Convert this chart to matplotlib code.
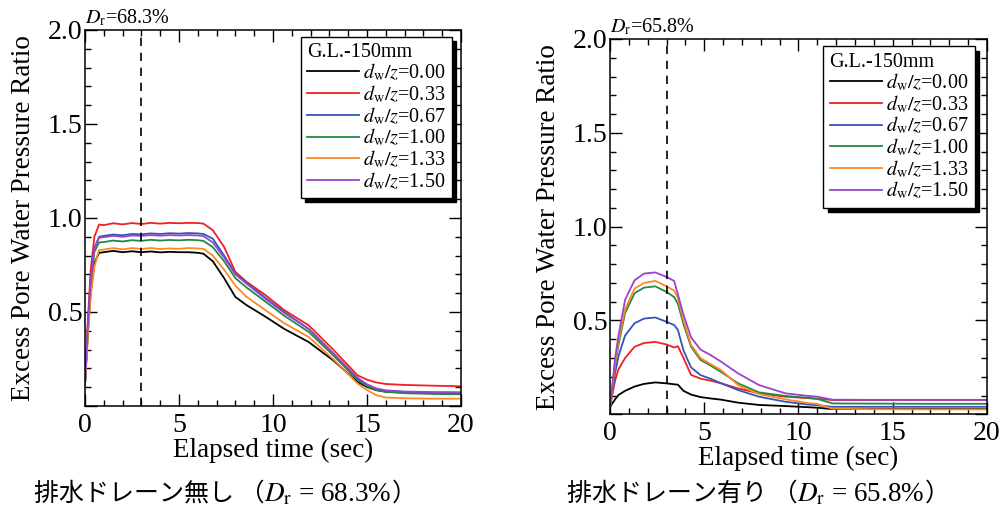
"""Excess pore water pressure ratio vs elapsed time, with / without drain."""

import matplotlib

matplotlib.use("Agg")

import matplotlib.pyplot as plt
from matplotlib.ticker import FuncFormatter, MultipleLocator

plt.rcParams.update(
    {
        "font.family": ["Liberation Serif", "DejaVu Serif"],
        "mathtext.fontset": "stix",
        "axes.linewidth": 1.1,
        "xtick.direction": "in",
        "ytick.direction": "in",
        "xtick.top": True,
        "ytick.right": True,
        "xtick.major.size": 8.5,
        "ytick.major.size": 8.5,
        "xtick.minor.size": 4.5,
        "ytick.minor.size": 4.5,
        "xtick.major.width": 1.0,
        "ytick.major.width": 1.0,
        "xtick.minor.width": 1.0,
        "ytick.minor.width": 1.0,
        "xtick.labelsize": 20,
        "ytick.labelsize": 20,
    }
)

W, H = 1002, 511
CJK = ["Noto Sans CJK JP", "DejaVu Sans"]

LABELS = ["0.00", "0.33", "0.67", "1.00", "1.33", "1.50"]
COLORS = ["#000000", "#ee2222", "#3355bb", "#228844", "#ff8822", "#9944cc"]

# --- no drain (Dr = 68.3%) ---
t_nodrain = [0.0, 0.15, 0.3, 0.5, 0.75, 1.0, 1.5, 2.0, 2.5, 3.0, 3.5, 4.0, 4.5, 5.0, 5.5,
             6.0, 6.3, 6.8, 7.4, 8.0, 8.6, 9.6, 10.6, 11.9, 13.2, 14.5, 15.0, 15.5, 16.0,
             17.0, 18.5, 20.0]
nd_000 = [0.11, 0.38, 0.60, 0.76, 0.815, 0.818, 0.825, 0.818, 0.823, 0.818, 0.822, 0.817,
          0.820, 0.818, 0.818, 0.815, 0.810, 0.77, 0.68, 0.58, 0.536, 0.475, 0.41, 0.34,
          0.243, 0.128, 0.101, 0.084, 0.076, 0.072, 0.070, 0.069]
nd_033 = [0.11, 0.45, 0.72, 0.90, 0.965, 0.962, 0.972, 0.966, 0.973, 0.968, 0.974, 0.970,
          0.974, 0.972, 0.974, 0.973, 0.970, 0.935, 0.846, 0.713, 0.66, 0.59, 0.51, 0.429,
          0.30, 0.163, 0.14, 0.125, 0.117, 0.112, 0.108, 0.105]
nd_067 = [0.11, 0.42, 0.66, 0.84, 0.90, 0.905, 0.912, 0.908, 0.915, 0.913, 0.918, 0.915,
          0.919, 0.917, 0.920, 0.918, 0.915, 0.89, 0.80, 0.705, 0.655, 0.575, 0.50, 0.41,
          0.28, 0.145, 0.112, 0.09, 0.08, 0.074, 0.071, 0.070]
nd_100 = [0.11, 0.40, 0.64, 0.82, 0.87, 0.872, 0.880, 0.875, 0.882, 0.878, 0.884, 0.880,
          0.883, 0.881, 0.884, 0.882, 0.878, 0.845, 0.77, 0.68, 0.63, 0.555, 0.48, 0.394,
          0.27, 0.138, 0.105, 0.085, 0.075, 0.068, 0.064, 0.062]
nd_133 = [0.11, 0.36, 0.58, 0.74, 0.83, 0.832, 0.840, 0.833, 0.840, 0.835, 0.840, 0.835,
          0.838, 0.836, 0.840, 0.838, 0.836, 0.80, 0.725, 0.64, 0.58, 0.51, 0.44, 0.367,
          0.25, 0.119, 0.085, 0.057, 0.045, 0.041, 0.039, 0.039]
nd_150 = [0.11, 0.42, 0.66, 0.84, 0.895, 0.898, 0.905, 0.900, 0.907, 0.905, 0.909, 0.906,
          0.909, 0.907, 0.909, 0.907, 0.904, 0.87, 0.79, 0.70, 0.65, 0.57, 0.495, 0.41,
          0.28, 0.15, 0.115, 0.093, 0.083, 0.077, 0.074, 0.073]

# --- with drain (Dr = 65.8%) ---
t_drain = [0.0, 0.27, 0.45, 0.8, 1.3, 1.8, 2.4, 3.0, 3.4, 3.6, 3.9, 4.3, 4.8, 5.3, 5.9,
           6.8, 7.9, 9.3, 10.5, 11.0, 11.8, 14.0, 17.0, 20.0]
d_000 = [0.04, 0.08, 0.103, 0.125, 0.148, 0.162, 0.17, 0.165, 0.16, 0.158, 0.125, 0.105,
         0.092, 0.085, 0.078, 0.062, 0.05, 0.044, 0.038, 0.035, 0.028, 0.028, 0.028, 0.028]
d_033 = [0.04, 0.18, 0.24, 0.30, 0.36, 0.38, 0.386, 0.372, 0.356, 0.363, 0.30, 0.21,
         0.19, 0.18, 0.165, 0.138, 0.112, 0.094, 0.086, 0.083, 0.076, 0.076, 0.077, 0.077]
d_067 = [0.04, 0.22, 0.31, 0.42, 0.485, 0.51, 0.516, 0.493, 0.476, 0.45, 0.34, 0.25,
         0.209, 0.191, 0.165, 0.129, 0.094, 0.067, 0.052, 0.048, 0.040, 0.040, 0.040, 0.040]
d_100 = [0.04, 0.26, 0.37, 0.54, 0.645, 0.675, 0.682, 0.652, 0.625, 0.59, 0.48, 0.36,
         0.29, 0.262, 0.225, 0.165, 0.117, 0.098, 0.088, 0.082, 0.058, 0.057, 0.056, 0.056]
d_133 = [0.04, 0.27, 0.39, 0.56, 0.67, 0.70, 0.711, 0.682, 0.66, 0.62, 0.50, 0.37,
         0.30, 0.27, 0.235, 0.156, 0.108, 0.08, 0.06, 0.055, 0.030, 0.027, 0.026, 0.026]
d_150 = [0.04, 0.30, 0.42, 0.61, 0.714, 0.75, 0.756, 0.732, 0.711, 0.64, 0.53, 0.41,
         0.345, 0.318, 0.28, 0.218, 0.156, 0.112, 0.098, 0.094, 0.078, 0.077, 0.077, 0.077]

LINE_T = 3.0


def _panel(ax, t, series, dr, leg_anchor):
    for y, lab, col in zip(series, LABELS, COLORS):
        ax.plot(t, y, color=col, lw=1.3, label=r"$d_\mathrm{w}/z$=" + lab)
    ax.axvline(LINE_T, color="k", lw=1.2, ls=(0, (5, 4)))
    ax.set_xlim(0, 20)
    ax.set_ylim(0, 2.0)
    ax.xaxis.set_major_locator(MultipleLocator(5))
    ax.xaxis.set_minor_locator(MultipleLocator(1))
    ax.yaxis.set_major_locator(MultipleLocator(0.5))
    ax.yaxis.set_minor_locator(MultipleLocator(0.1))
    ax.yaxis.set_major_formatter(FuncFormatter(lambda v, p: "" if abs(v) < 1e-9 else f"{v:.1f}"))
    ax.tick_params(axis="x", pad=5)
    ax.tick_params(axis="y", pad=2)
    ax.set_xlabel("Elapsed time (sec)", fontsize=19.5, labelpad=0)
    ax.set_ylabel("Excess Pore Water Pressure Ratio", fontsize=19.5, labelpad=8)
    ax.text(0.0, 1.004, r"$D_\mathrm{r}$=" + dr, transform=ax.transAxes,
            fontsize=14.5, ha="left", va="bottom")
    leg = ax.legend(
        loc="upper right", bbox_to_anchor=leg_anchor, borderaxespad=0,
        title="G.L.-150mm", title_fontsize=14.5, fontsize=14.5, alignment="left",
        handlelength=2.6, handletextpad=0.2, labelspacing=0.0, borderpad=0.3,
        fancybox=False, framealpha=1, edgecolor="k",
        shadow={"color": "k", "alpha": 1, "ox": 3, "oy": -3},
    )
    leg.get_frame().set_linewidth(1.0)


def _caption(fig, cx, y, head, dr):
    # CJK pieces need the CJK font, the D_r part is mathtext, so place them side by side
    parts = [
        fig.text(0, y, head, fontsize=18, family=CJK, va="baseline"),
        fig.text(0, y, r"$D_\mathrm{r}$ = " + dr, fontsize=19.5, va="baseline"),
        fig.text(0, y, "）", fontsize=18, family=CJK, va="baseline"),
    ]
    r = fig.canvas.get_renderer()
    widths = [p.get_window_extent(r).width for p in parts]
    x = cx - sum(widths) / 2
    for p, w in zip(parts, widths):
        p.set_x(x / W)
        x += w


fig = plt.figure(figsize=(W / 100, H / 100), dpi=100)
ax1 = fig.add_axes([0.0848, 0.2055, 0.3753, 0.7358])
ax2 = fig.add_axes([0.6088, 0.1892, 0.3762, 0.7345])

_panel(ax1, t_nodrain, [nd_000, nd_033, nd_067, nd_100, nd_133, nd_150], "68.3%",
       (0.976, 0.982))
_panel(ax2, t_drain, [d_000, d_033, d_067, d_100, d_133, d_150], "65.8%",
       (0.967, 0.98))

cap_y = 1 - 501 / H
_caption(fig, 225, cap_y, "排水ドレーン無し （", "68.3%")
_caption(fig, 758, cap_y, "排水ドレーン有り （", "65.8%")

fig.savefig("out.png", dpi=100)
